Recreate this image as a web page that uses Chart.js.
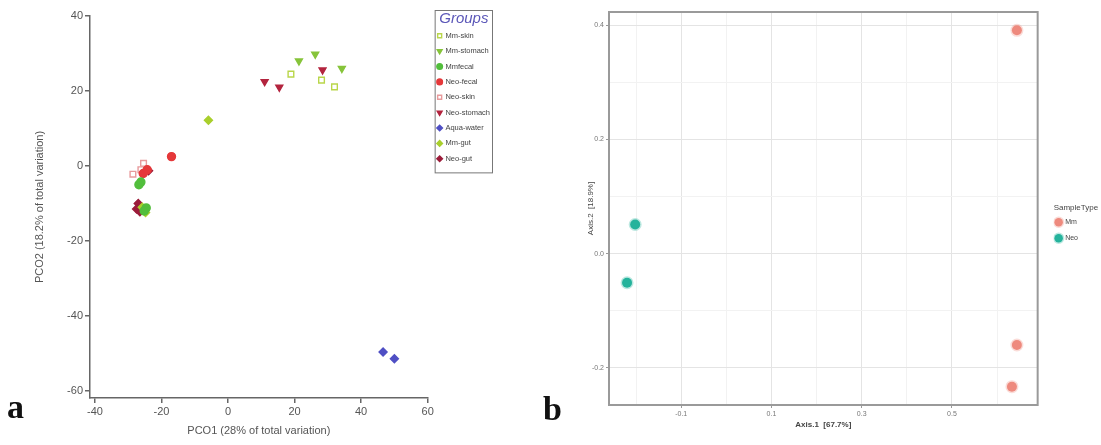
<!DOCTYPE html>
<html>
<head>
<meta charset="utf-8">
<script src="https://cdn.jsdelivr.net/npm/chart.js@4/dist/chart.umd.min.js"></script>
<style>
  body { margin: 0; background: #fff; width: 1101px; height: 445px; overflow: hidden; position: relative; }
  #wrapA { position: absolute; left: 0; top: 0; width: 500px; height: 445px; }
  #wrapB { position: absolute; left: 550px; top: 0; width: 551px; height: 445px; }
  .panel-tag { position: absolute; font-family: "Liberation Serif", "DejaVu Serif", serif; font-weight: bold; font-size: 34px; color: #111; }
</style>
</head>
<body>
<div id="wrapA"><canvas id="chartA"></canvas></div>
<div id="wrapB"><canvas id="chartB"></canvas></div>
<div class="panel-tag" style="left:7px; top:388px;">a</div>
<div class="panel-tag" style="left:543px; top:390px;">b</div>
<script>
// panel a - PCO scores per group
const groupNames = ['Mm-skin', 'Mm-stomach', 'Mmfecal', 'Neo-fecal', 'Neo-skin', 'Neo-stomach', 'Aqua-water', 'Mm-gut', 'Neo-gut'];
const mmSkinX = [18.9, 28.1, 32.0];
const mmSkinY = [24.5, 22.9, 21.1];
const mmStomachX = [21.3, 26.2, 34.2];
const mmStomachY = [28.0, 29.8, 26.0];
const mmFecalX = [-26.8, -26.2, -24.6, -25.2];
const mmFecalY = [-5.0, -4.3, -11.2, -12.0];
const neoFecalX = [-17.0, -25.5, -24.3];
const neoFecalY = [2.5, -2.0, -1.0];
const neoSkinX = [-25.4, -28.6, -26.2];
const neoSkinY = [0.7, -2.2, -1.0];
const neoStomachX = [11.0, 15.4, 28.4];
const neoStomachY = [22.5, 21.0, 25.6];
const aquaWaterX = [46.6, 50.0];
const aquaWaterY = [-49.6, -51.4];
const mmGutX = [-5.9, -25.8, -24.8];
const mmGutY = [12.2, -11.0, -12.4];
const neoGutX = [-27.0, -26.5, -23.9, -27.5];
const neoGutY = [-10.0, -12.2, -1.3, -11.5];
const pcoTicksX = [-40, -20, 0, 20, 40, 60];
const pcoTicksY = [-60, -40, -20, 0, 20, 40];

// panel b - ordination by sample type
const sampleTypes = ['Mm', 'Neo'];
const mmAxis1 = [0.644, 0.644, 0.633];
const mmAxis2 = [0.391, -0.160, -0.233];
const neoAxis1 = [-0.202, -0.220];
const neoAxis2 = [0.051, -0.051];
const axis1Ticks = [-0.2, -0.1, 0.0, 0.1, 0.2, 0.3, 0.4, 0.5, 0.6];
const axis1Major = [-0.1, 0.1, 0.3, 0.5];
const axis2Ticks = [-0.2, -0.1, 0.0, 0.1, 0.2, 0.3, 0.4];
const axis2Major = [-0.2, 0.0, 0.2, 0.4];

function pts(xs, ys) {
    return xs.map((x, i) => ({ x: x, y: ys[i] }))
}

// legend rows use the font lineHeight when the text is an array
function tallLabels(chart) {
    return Chart.defaults.plugins.legend.labels.generateLabels(chart).map(l => ({ ...l, text: [l.text] }))
}

// nudges the legend box after layout (dx/dy move it, grow changes its width)
const legendShift = {
    id: 'legendShift',
    afterLayout(chart, args, opts) {
        const l = chart.legend
        if (!l) return
        const dx = opts.dx || 0, dy = opts.dy || 0, grow = opts.grow || 0
        l.left += dx
        l.right += dx + grow
        l.width += grow
        l.top += dy
        l.bottom += dy
        if (l.legendHitBoxes) l.legendHitBoxes.forEach(b => { b.left += dx; b.top += dy })
    }
}

const boxBorder = {
    id: 'boxBorder',
    afterDraw(chart, args, opts) {
        const ctx = chart.ctx
        ctx.save()
        ctx.strokeStyle = opts.color
        ctx.lineWidth = opts.width
        if (opts.legend) {
            // only around the legend content, not the whole side column
            const l = chart.legend
            const boxes = l.legendHitBoxes
            const last = boxes[boxes.length - 1]
            const bottom = last.top + last.height + 5
            ctx.strokeRect(l.left + 0.5, l.top + 0.5, l.width - 1, bottom - l.top)
        }
        if (opts.area) {
            const a = chart.chartArea
            ctx.strokeRect(a.left, a.top, a.right - a.left, a.bottom - a.top)
        }
        ctx.restore()
    }
}

const styleA = [
    { c: '#b9d64a', s: 'rect', fill: false, rot: 0 },
    { c: '#86c43a', s: 'triangle', fill: true, rot: 180 },
    { c: '#52be3c', s: 'circle', fill: true, rot: 0 },
    { c: '#e5383a', s: 'circle', fill: true, rot: 0 },
    { c: '#e89a9c', s: 'rect', fill: false, rot: 0 },
    { c: '#b3243e', s: 'triangle', fill: true, rot: 180 },
    { c: '#4f4fc4', s: 'rectRot', fill: true, rot: 0 },
    { c: '#a9cf2c', s: 'rectRot', fill: true, rot: 0 },
    { c: '#9c1c3a', s: 'rectRot', fill: true, rot: 0 }
];
const seriesA = [
    pts(mmSkinX, mmSkinY), pts(mmStomachX, mmStomachY), pts(mmFecalX, mmFecalY),
    pts(neoFecalX, neoFecalY), pts(neoSkinX, neoSkinY), pts(neoStomachX, neoStomachY),
    pts(aquaWaterX, aquaWaterY), pts(mmGutX, mmGutY), pts(neoGutX, neoGutY)
];

const axisFont = { family: 'Arial, "Liberation Sans", sans-serif', size: 11 };

new Chart(document.getElementById('chartA'), {
    type: 'scatter',
    data: {
        datasets: groupNames.map((name, i) => ({
            label: name,
            data: seriesA[i],
            pointStyle: styleA[i].s,
            rotation: styleA[i].rot,
            radius: 4,
            borderWidth: 1.4,
            borderColor: styleA[i].c,
            backgroundColor: styleA[i].fill ? styleA[i].c : '#ffffff'
        }))
    },
    plugins: [legendShift, boxBorder],
    options: {
        responsive: true,
        maintainAspectRatio: false,
        animation: false,
        layout: { padding: { left: 33, right: 7, top: 16, bottom: 7 } },
        plugins: {
            tooltip: { enabled: false },
            legendShift: { dx: 7, dy: -6, grow: -7 },
            boxBorder: { color: '#777', width: 1, legend: true },
            legend: {
                position: 'right',
                align: 'start',
                title: {
                    display: true,
                    text: 'Groups',
                    color: '#5b57b8',
                    padding: { top: 1, bottom: 0 },
                    font: { family: 'Arial, "Liberation Sans", sans-serif', size: 15, style: 'italic' }
                },
                labels: {
                    usePointStyle: true,
                    boxWidth: 4,
                    boxHeight: 4,
                    padding: 3,
                    color: '#444',
                    generateLabels: tallLabels,
                    font: { family: 'Arial, "Liberation Sans", sans-serif', size: 7.5, lineHeight: 1.65 }
                }
            }
        },
        scales: {
            x: {
                type: 'linear',
                min: -41.5,
                max: 60,
                afterBuildTicks: (scale) => { scale.ticks = pcoTicksX.map(v => ({ value: v })) },
                afterFit: (scale) => { scale.height = 40 },
                border: { color: '#666', width: 1.5 },
                grid: { drawOnChartArea: false, tickLength: 5, color: '#666', lineWidth: 1.5 },
                ticks: { color: '#555', font: axisFont, padding: 2, maxRotation: 0 },
                title: { display: true, text: 'PCO1 (28% of total variation)', color: '#555', font: axisFont, padding: 0 }
            },
            y: {
                type: 'linear',
                min: -61.9,
                max: 40,
                afterBuildTicks: (scale) => { scale.ticks = pcoTicksY.map(v => ({ value: v })) },
                afterFit: (scale) => { scale.width = 57 },
                border: { color: '#666', width: 1.5 },
                grid: { drawOnChartArea: false, tickLength: 5, color: '#666', lineWidth: 1.5 },
                ticks: { color: '#555', font: axisFont, padding: 2 },
                title: { display: true, text: 'PCO2 (18.2% of total variation)', color: '#555', font: axisFont, padding: 0 }
            }
        }
    }
});

const smallFont = { family: 'Arial, "Liberation Sans", sans-serif', size: 7 };
const near = (v, list) => list.some(m => Math.abs(m - v) < 1e-6);

new Chart(document.getElementById('chartB'), {
    type: 'scatter',
    data: {
        datasets: [
            {
                label: sampleTypes[0],
                data: pts(mmAxis1, mmAxis2),
                pointStyle: 'circle',
                radius: 5,
                borderWidth: 3,
                backgroundColor: '#ee8a7e',
                borderColor: 'rgba(238,138,126,0.3)'
            },
            {
                label: sampleTypes[1],
                data: pts(neoAxis1, neoAxis2),
                pointStyle: 'circle',
                radius: 5,
                borderWidth: 3,
                backgroundColor: '#25b39c',
                borderColor: 'rgba(37,179,156,0.3)'
            }
        ]
    },
    plugins: [legendShift, boxBorder],
    options: {
        responsive: true,
        maintainAspectRatio: false,
        animation: false,
        layout: { padding: { left: 36, right: 29, top: 12, bottom: 14 } },
        plugins: {
            tooltip: { enabled: false },
            legendShift: { dx: 16, dy: 6, grow: 34 },
            boxBorder: { color: '#9a9a9a', width: 2, area: true },
            legend: {
                position: 'right',
                align: 'center',
                title: {
                    display: true,
                    text: 'SampleType',
                    color: '#444',
                    position: 'start',
                    padding: { top: 0, bottom: 3 },
                    font: { family: 'Arial, "Liberation Sans", sans-serif', size: 8 }
                },
                labels: {
                    usePointStyle: true,
                    boxWidth: 6,
                    boxHeight: 6,
                    padding: 2,
                    color: '#444',
                    generateLabels: tallLabels,
                    font: { family: 'Arial, "Liberation Sans", sans-serif', size: 7, lineHeight: 2.0 }
                }
            }
        },
        scales: {
            x: {
                type: 'linear',
                min: -0.26,
                max: 0.69,
                afterBuildTicks: (scale) => { scale.ticks = axis1Ticks.map(v => ({ value: v })) },
                afterFit: (scale) => { scale.height = 26 },
                border: { display: false },
                grid: {
                    color: (c) => near(c.tick.value, axis1Major) ? '#e4e4e4' : '#f2f2f2',
                    tickLength: 3,
                    tickColor: (c) => near(c.tick.value, axis1Major) ? '#999' : 'rgba(0,0,0,0)'
                },
                ticks: {
                    color: '#777',
                    font: smallFont,
                    padding: 2,
                    maxRotation: 0,
                    autoSkip: false,
                    callback: (v) => near(v, axis1Major) ? v.toFixed(1) : ''
                },
                title: { display: true, text: 'Axis.1  [67.7%]', color: '#444', font: { family: 'Arial, "Liberation Sans", sans-serif', size: 8, weight: 'bold' }, padding: 1 }
            },
            y: {
                type: 'linear',
                min: -0.265,
                max: 0.423,
                afterBuildTicks: (scale) => { scale.ticks = axis2Ticks.map(v => ({ value: v })) },
                afterFit: (scale) => { scale.width = 23 },
                border: { display: false },
                grid: {
                    color: (c) => near(c.tick.value, axis2Major) ? '#e4e4e4' : '#f2f2f2',
                    tickLength: 3,
                    tickColor: (c) => near(c.tick.value, axis2Major) ? '#999' : 'rgba(0,0,0,0)'
                },
                ticks: {
                    color: '#777',
                    font: smallFont,
                    padding: 2,
                    autoSkip: false,
                    callback: (v) => near(v, axis2Major) ? v.toFixed(1) : ''
                },
                title: { display: true, text: 'Axis.2  [18.9%]', color: '#444', font: { family: 'Arial, "Liberation Sans", sans-serif', size: 8 }, padding: 0 }
            }
        }
    }
});
</script>
</body>
</html>
